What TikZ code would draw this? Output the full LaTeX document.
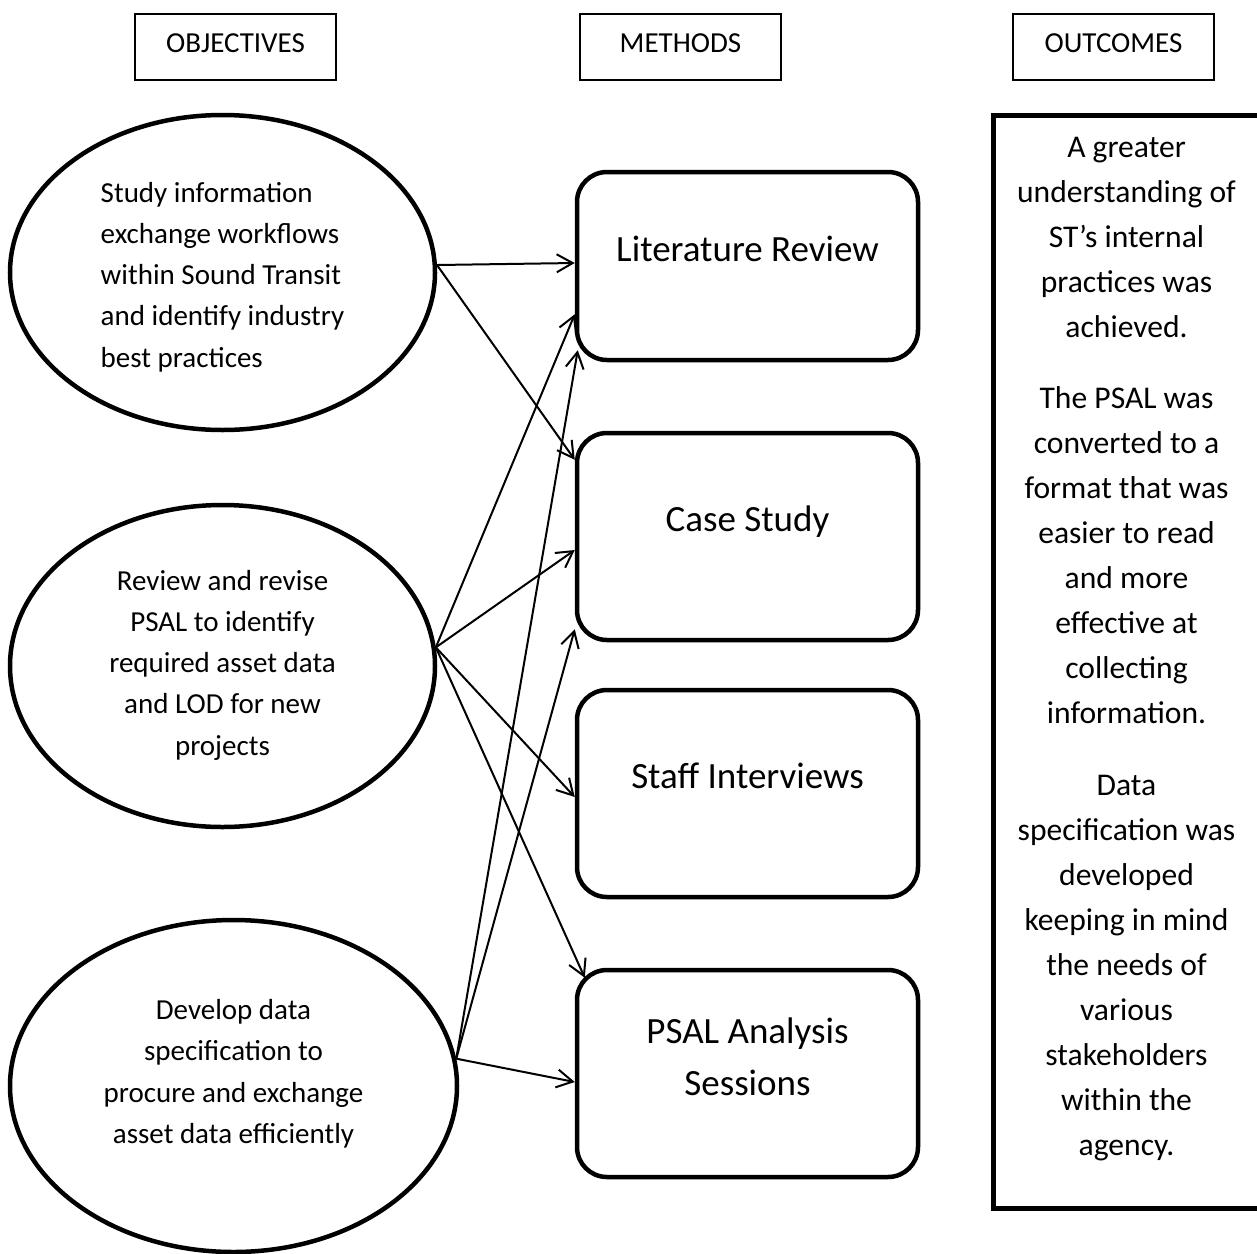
\documentclass[tikz,border=0pt]{standalone}
\usepackage{fontspec}
\setmainfont{Carlito}
\usetikzlibrary{arrows.meta, positioning, shapes.geometric}

\tikzset{
    headbox/.style={draw, line width=0.6pt, minimum width=100.5pt, minimum height=33pt, inner sep=0pt,
        font=\fontsize{14.5}{17.5}\selectfont, text height=10pt, text depth=5pt},
    objective/.style={ellipse, draw, line width=2.25pt, inner sep=0pt, align=center,
        font=\fontsize{14.5}{20.6}\selectfont, text depth=5pt},
    method/.style={draw, rounded corners=15pt, line width=2.25pt, minimum width=170.5pt, minimum height=103.5pt,
        inner sep=0pt, align=center, font=\fontsize{18.5}{26}\selectfont, text height=10pt, text depth=14.7pt},
    outcome/.style={draw, line width=2.5pt, minimum width=133.5pt, minimum height=546.5pt, inner sep=0pt,
        align=center, font=\fontsize{15.8}{22.5}\selectfont, text height=498.5pt, text depth=5pt},
    link/.style={-{Straight Barb[length=8pt,width=9pt]}, line width=1pt}
}

\begin{document}
\begin{tikzpicture}[x=0.5pt, y=-0.5pt]
    \useasboundingbox (0,0) rectangle (1257,1253);

    % Column headings
    \node[headbox] (objhead) at (235.5,47) {OBJECTIVES};
    \node[headbox] (methhead) at (680.5,47) {METHODS};
    \node[headbox] (outhead) at (1113.5,47) {OUTCOMES};

    % Objectives
    \node[objective, align=left, minimum width=212.5pt, minimum height=157.5pt, text height=99.5pt] (study) at (222.5,272.5)
        {Study information\\exchange workflows\\within Sound Transit\\and identify industry\\best practices};
    \node[objective, minimum width=212.5pt, minimum height=161pt, text height=94pt] (review) at (222.5,666)
        {Review and revise\\PSAL to identify\\required asset data\\and LOD for new\\projects};
    \node[objective, minimum width=223.5pt, minimum height=166pt, text height=62.3pt] (develop) at (233.5,1086)
        {Develop data\\specification to\\procure and exchange\\asset data efficiently};

    % Methods
    \node[method, minimum height=94pt] (lit) at (747.5,266) {Literature Review};
    \node[method] (case) at (747.5,536.5) {Case Study};
    \node[method] (staff) at (747.5,793.5) {Staff Interviews};
    \node[method, text height=26.5pt, text depth=5pt] (psal) at (747.5,1073.5) {PSAL Analysis\\Sessions};

    % Outcomes
    \node[outcome] (result) at (1126.5,661.5)
        {A greater\\understanding of\\ST’s internal\\practices was\\achieved.\\[13.25pt]
         The PSAL was\\converted to a\\format that was\\easier to read\\and more\\effective at\\collecting\\information.\\[13.25pt]
         Data\\specification was\\developed\\keeping in mind\\the needs of\\various\\stakeholders\\within the\\agency.};

    % Links
    \draw[link] (study.2) -- ([shift={(0,-3)}]lit.west);
    \draw[link] (study.2) -- ([shift={(0,29)}]case.north west);
    \draw[link] (review.5) -- ([shift={(0,-48)}]lit.south west);
    \draw[link] (review.5) -- ([shift={(0,13.5)}]case.west);
    \draw[link] (review.5) -- ([shift={(0,3.5)}]staff.west);
    \draw[link] (review.5) -- ([shift={(10,10)}]psal.north west);
    \draw[link] (develop.7) -- ([shift={(3,-12)}]lit.south west);
    \draw[link] (develop.7) -- ([shift={(0,-13)}]case.south west);
    \draw[link] (develop.7) -- ([shift={(0,8.5)}]psal.west);
\end{tikzpicture}
\end{document}
